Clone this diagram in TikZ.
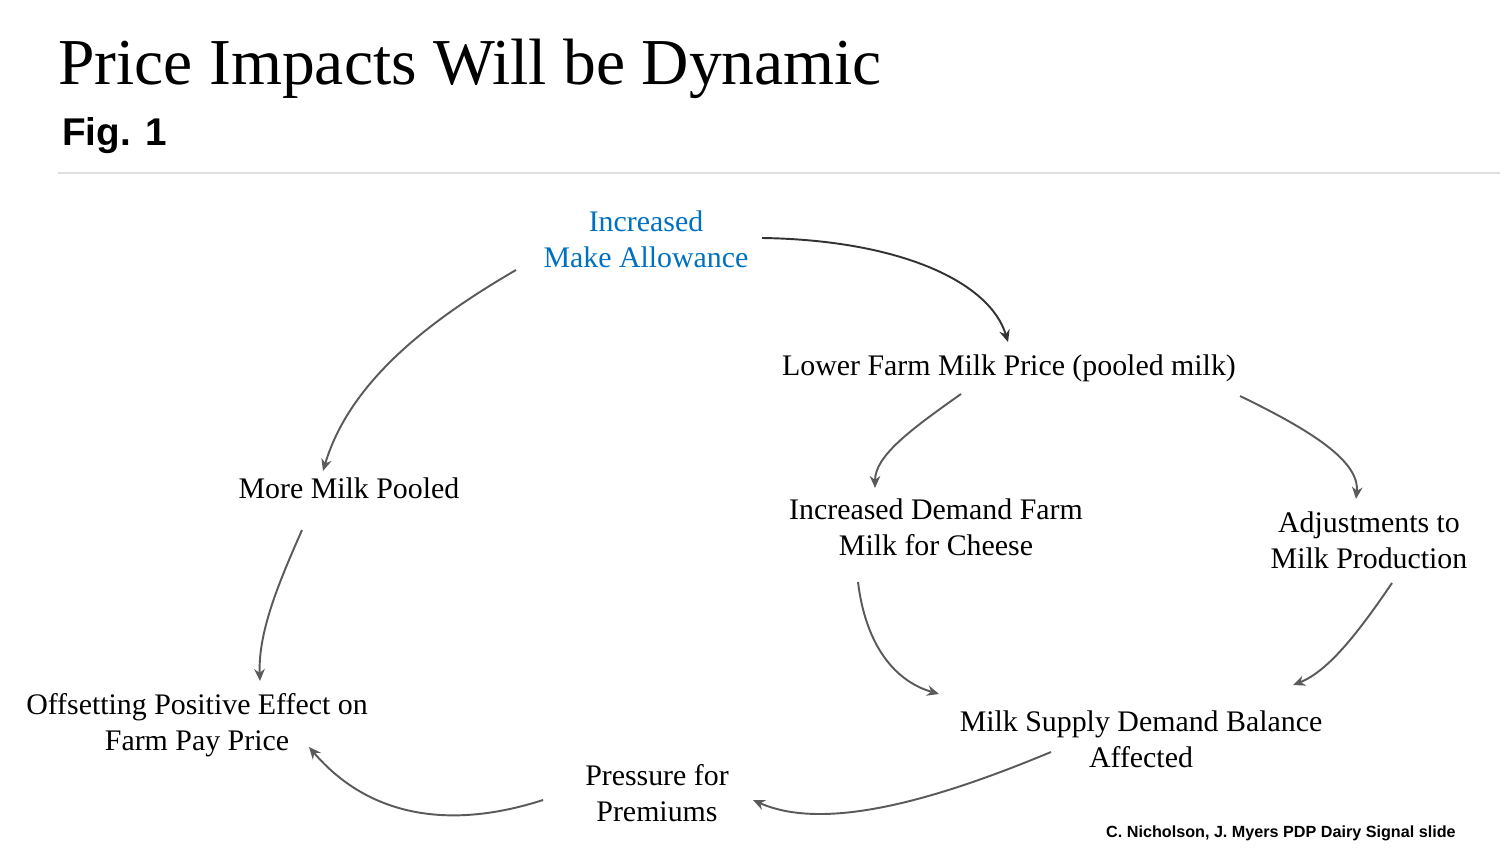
\documentclass[tikz,border=0pt]{standalone}
\usepackage{fontspec}
\setmainfont{Liberation Serif}
\newfontfamily\arialfont{Liberation Sans}
\usetikzlibrary{arrows.meta,calc}

\definecolor{slideblue}{RGB}{0,112,192}
\definecolor{linkgray}{RGB}{90,90,90}

\begin{document}
\begin{tikzpicture}[
    x=0.02cm, y=-0.02cm,
    box/.style = {
      align = center,
      inner sep = 0pt,
      font = \fontsize{17}{20.5}\selectfont
    },
    link/.style = {
      draw = linkgray,
      line width = 1.1pt,
      -{Stealth[length=2.4mm, width=2.1mm]}
    }
  ]
  \useasboundingbox (0,0) rectangle (1500,852);
  % heading
  \node[anchor=base west, inner sep=0pt, font=\fontsize{37.3}{40}\selectfont]
    (title) at (58,84) {Price Impacts Will be Dynamic};
  \node[anchor=base west, inner sep=0pt, font=\arialfont\bfseries\fontsize{22}{24}\selectfont]
    (fig) at (62,145) {Fig. 1};
  \draw[gray!25, line width=1.1pt] (58,173) coordinate (rulel) -- (1500,173) coordinate (ruler);
  \node[anchor=base east, inner sep=0pt, font=\arialfont\bfseries\fontsize{9.2}{11}\selectfont]
    (credit) at (1456,837) {C. Nicholson, J. Myers PDP Dairy Signal slide};

  % boxes of the cycle
  \node[box, text=slideblue] (allow) at (646,239) {Increased\\Make Allowance};
  \node[box] (lowprice) at (1009,368) {Lower Farm Milk Price (pooled milk)};
  \node[box] (pooled)   at (349,488)  {More Milk Pooled};
  \node[box] (cheese)   at (936,527)  {Increased Demand Farm\\Milk for Cheese};
  \node[box] (adjust)   at (1369,540) {Adjustments to\\Milk Production};
  \node[box] (offset)   at (197,725)  {Offsetting Positive Effect on\\Farm Pay Price};
  \node[box] (balance)  at (1141,739) {Milk Supply Demand Balance\\Affected};
  \node[box] (premium)  at (657,793)  {Pressure for\\Premiums};

  % links
  \draw[link, draw=black!80] ($(allow)+(116,-1)$) .. controls +(138,2) and +(-18,-60)
    .. ($(lowprice)+(-1,-26)$);
  \draw[link] ($(allow)+(-130,31)$) .. controls +(-86,50) and +(27,-90)
    .. ($(pooled)+(-26,-17)$);
  \draw[link] ($(lowprice)+(-48,26)$) .. controls +(-51,36) and +(0,-32)
    .. ($(cheese)+(-61,-39)$);
  \draw[link] ($(lowprice)+(231,28)$) .. controls +(70,34) and +(4,-38)
    .. ($(adjust)+(-13,-41)$);
  \draw[link] ($(pooled)+(-47,42)$) .. controls +(-22,50) and +(-2,-50)
    .. ($(offset)+(63,-44)$);
  \draw[link] ($(cheese)+(-78,55)$) .. controls +(7,58) and +(-48,-14)
    .. ($(balance)+(-202,-45)$);
  \draw[link] ($(adjust)+(23,43)$) .. controls +(-32,47) and +(36,-14)
    .. ($(balance)+(152,-54)$);
  \draw[link] ($(balance)+(-90,13)$) .. controls +(-101,42) and +(76,34)
    .. ($(premium)+(96,7)$);
  \draw[link] ($(premium)+(-114,7)$) .. controls +(-93,30) and +(60,70)
    .. ($(offset)+(112,22)$);
\end{tikzpicture}
\end{document}
